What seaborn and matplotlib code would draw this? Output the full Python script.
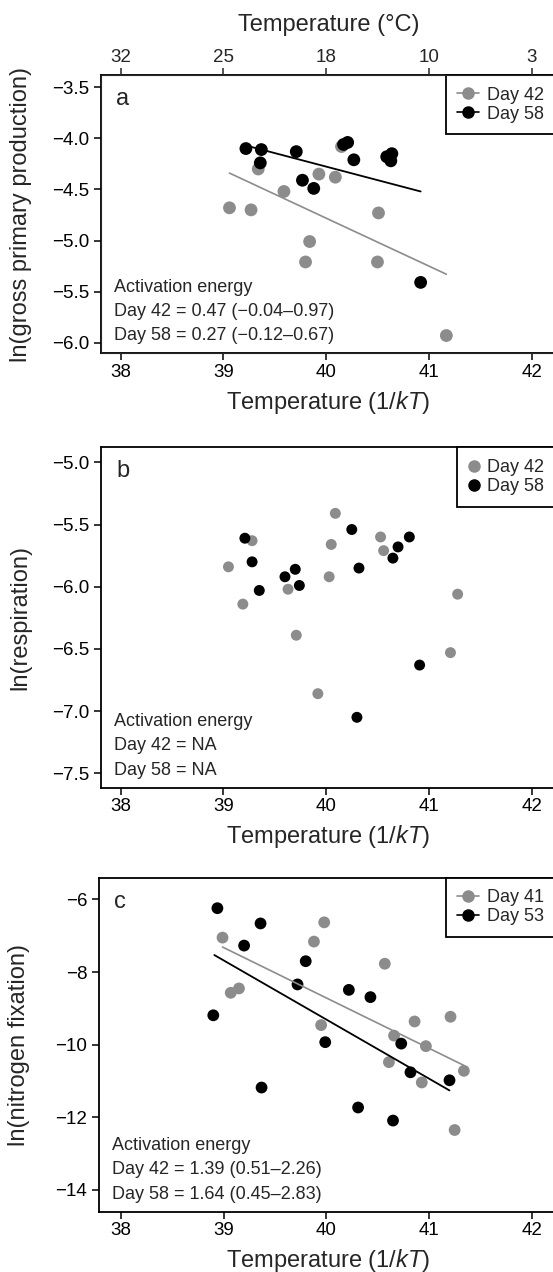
import matplotlib
matplotlib.use("Agg")
import matplotlib.pyplot as plt
from matplotlib.lines import Line2D
import seaborn as sns
import pandas as pd

sns.set_style("ticks")
plt.rcParams["font.family"] = ["Liberation Sans", "DejaVu Sans"]
plt.rcParams["mathtext.fontset"] = "custom"
plt.rcParams["mathtext.rm"] = "Liberation Sans"
plt.rcParams["mathtext.it"] = "Liberation Sans:italic"

GRAY = "#8c8c8c"
BLACK = "#000000"

# panel a: gross primary production
gpp_x42 = [39.06, 39.27, 39.34, 39.59, 39.93, 40.09, 39.84, 39.80, 40.51, 40.50, 41.17, 40.15]
gpp_y42 = [-4.68, -4.70, -4.30, -4.52, -4.35, -4.38, -5.01, -5.21, -4.73, -5.21, -5.93, -4.08]
gpp_x58 = [39.22, 39.37, 39.36, 39.71, 39.77, 39.88, 40.17, 40.21, 40.27, 40.59, 40.64, 40.63, 40.92]
gpp_y58 = [-4.10, -4.11, -4.24, -4.13, -4.41, -4.49, -4.06, -4.04, -4.21, -4.18, -4.15, -4.22, -5.41]
gpp_fit42_x = [39.06, 41.17]
gpp_fit42_y = [-4.34, -5.33]
gpp_fit58_x = [39.22, 40.92]
gpp_fit58_y = [-4.07, -4.52]

# panel b: respiration
resp_x42 = [39.05, 39.19, 39.28, 39.63, 39.71, 39.92, 40.03, 40.05, 40.09, 40.53, 40.56, 41.21, 41.28]
resp_y42 = [-5.84, -6.14, -5.63, -6.02, -6.39, -6.86, -5.92, -5.66, -5.41, -5.60, -5.71, -6.53, -6.06]
resp_x58 = [39.21, 39.28, 39.35, 39.60, 39.70, 39.74, 40.25, 40.32, 40.65, 40.70, 40.81, 40.91, 40.30]
resp_y58 = [-5.61, -5.80, -6.03, -5.92, -5.86, -5.99, -5.54, -5.85, -5.77, -5.68, -5.60, -6.63, -7.05]

# panel c: nitrogen fixation
nfix_x41 = [38.99, 39.07, 39.15, 39.88, 39.98, 39.95, 40.57, 40.66, 40.61, 40.86, 40.97, 40.93, 41.21, 41.34, 41.25]
nfix_y41 = [-7.05, -8.57, -8.45, -7.16, -6.63, -9.46, -7.77, -9.75, -10.48, -9.36, -10.04, -11.04, -9.23, -10.72, -12.35]
nfix_x53 = [38.94, 38.90, 39.20, 39.36, 39.37, 39.80, 39.72, 39.99, 40.22, 40.43, 40.31, 40.73, 40.65, 40.82, 41.20]
nfix_y53 = [-6.24, -9.19, -7.27, -6.66, -11.18, -7.70, -8.34, -9.93, -8.49, -8.69, -11.73, -9.97, -12.09, -10.76, -10.98]
nfix_fit41_x = [38.99, 41.34]
nfix_fit41_y = [-7.31, -10.57]
nfix_fit53_x = [38.91, 41.20]
nfix_fit53_y = [-7.53, -11.26]

x_ticks = [38, 39, 40, 41, 42]
celsius_labels = ["32", "25", "18", "10", "3"]

text_a = ["Activation energy", "Day 42 = 0.47 (\u22120.04\u20130.97)", "Day 58 = 0.27 (\u22120.12\u20130.67)"]
text_b = ["Activation energy", "Day 42 = NA", "Day 58 = NA"]
text_c = ["Activation energy", "Day 42 = 1.39 (0.51\u20132.26)", "Day 58 = 1.64 (0.45\u20132.83)"]

W, H = 553, 1272
fig = plt.figure(figsize=(W / 100, H / 100), dpi=100)


def make_axes(left_px, top_px, bottom_px, right_px=556):
    return fig.add_axes([left_px / W, 1 - bottom_px / H,
                         (right_px - left_px) / W, (bottom_px - top_px) / H])


def style_axes(ax, xlim, ylim, yticks, ylabel, letter, lines):
    ax.set_xlim(*xlim)
    ax.set_ylim(*ylim)
    ax.set_xticks(x_ticks)
    ax.set_yticks(yticks)
    ax.tick_params(direction="out", length=4.7, width=1.1, labelsize=13.5, colors="black")
    ax.tick_params(axis="x", pad=3)
    ax.tick_params(axis="y", pad=4)
    for sp in ax.spines.values():
        sp.set_linewidth(1.3)
        sp.set_color("black")
    ax.set_xlabel(r"Temperature (1/$\mathit{kT}$)", fontsize=17, labelpad=5.5)
    ax.set_ylabel(ylabel, fontsize=17)
    ax.yaxis.set_label_coords(-0.152, 0.5)
    ax.annotate(letter, xy=(0, 1), xycoords="axes fraction", xytext=(15, -24),
                textcoords="offset pixels", fontsize=17, va="center", ha="left")
    ax.annotate("\n".join(lines), xy=(0, 0), xycoords="axes fraction", xytext=(13, 9),
                textcoords="offset pixels", fontsize=13, va="bottom", ha="left",
                linespacing=1.56)


def scatter(ax, xa, ya, xb, yb, la, lb, size):
    df = pd.DataFrame({
        "x": xa + xb,
        "y": ya + yb,
        "day": [la] * len(xa) + [lb] * len(xb),
    })
    sns.scatterplot(data=df, x="x", y="y", hue="day", palette={la: GRAY, lb: BLACK},
                    s=size, edgecolor="none", linewidth=0, legend=False, ax=ax, zorder=3)


def add_legend(ax, la, lb, with_line):
    ls = "-" if with_line else "none"
    handles = [Line2D([0], [0], color=GRAY, marker="o", ms=8, ls=ls, lw=1.2),
               Line2D([0], [0], color=BLACK, marker="o", ms=8, ls=ls, lw=1.2)]
    leg = ax.legend(handles, [la, lb], loc="upper right", borderaxespad=0,
                    fontsize=13, frameon=True, fancybox=False, framealpha=1,
                    edgecolor="black", handlelength=1.2 if with_line else 0.6,
                    handletextpad=0.45, labelspacing=0.1, borderpad=0.65)
    leg.get_frame().set_linewidth(1.3)


# panel a
ax_a = make_axes(101, 75, 353.3)
scatter(ax_a, gpp_x42, gpp_y42, gpp_x58, gpp_y58, "Day 42", "Day 58", 85)
ax_a.plot(gpp_fit42_x, gpp_fit42_y, color=GRAY, lw=1.2, zorder=4)
ax_a.plot(gpp_fit58_x, gpp_fit58_y, color=BLACK, lw=1.3, zorder=4)
style_axes(ax_a, (37.81, 42.237), (-6.104, -3.38), [-3.5, -4.0, -4.5, -5.0, -5.5, -6.0],
           "ln(gross primary production)", "a", text_a)
add_legend(ax_a, "Day 42", "Day 58", True)

top = ax_a.twiny()
top.set_xlim(ax_a.get_xlim())
top.set_xticks(x_ticks)
top.set_xticklabels(celsius_labels)
top.tick_params(direction="out", length=4.7, width=1.1, labelsize=13.5, pad=2)
top.set_xlabel("Temperature (\u00b0C)", fontsize=17, labelpad=12.5)

# panel b
ax_b = make_axes(101, 447.3, 787.7)
scatter(ax_b, resp_x42, resp_y42, resp_x58, resp_y58, "Day 42", "Day 58", 62)
style_axes(ax_b, (37.81, 42.237), (-7.616, -4.879), [-5.0, -5.5, -6.0, -6.5, -7.0, -7.5],
           "ln(respiration)", "b", text_b)
add_legend(ax_b, "Day 42", "Day 58", False)

# panel c
ax_c = make_axes(99.3, 877.7, 1211.7)
scatter(ax_c, nfix_x41, nfix_y41, nfix_x53, nfix_y53, "Day 41", "Day 53", 72)
ax_c.plot(nfix_fit41_x, nfix_fit41_y, color=GRAY, lw=1.2, zorder=4)
ax_c.plot(nfix_fit53_x, nfix_fit53_y, color=BLACK, lw=1.3, zorder=4)
style_axes(ax_c, (37.79, 42.237), (-14.6, -5.4), [-6, -8, -10, -12, -14],
           "ln(nitrogen fixation)", "c", text_c)
add_legend(ax_c, "Day 41", "Day 53", True)

fig.savefig("out.png", dpi=100)
